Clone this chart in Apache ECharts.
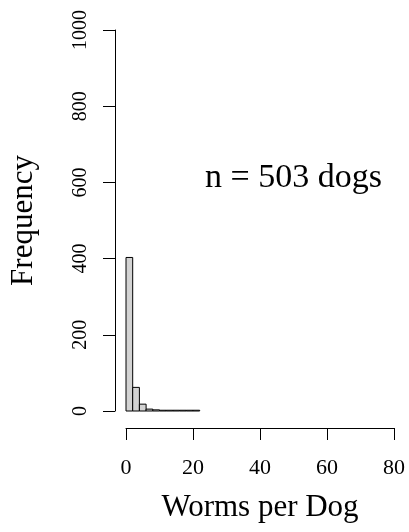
<!DOCTYPE html>
<html>
<head>
<meta charset="utf-8">
<script src="https://cdn.jsdelivr.net/npm/echarts@6/dist/echarts.min.js"></script>
<style>
html,body{margin:0;padding:0;background:#fff;}
#c{width:409px;height:532px;}
</style>
</head>
<body>
<div id="c"></div>
<script>
// Histogram data (bin width 2)
var binEdges = [0, 2, 4, 6, 8, 10, 12, 14, 16, 18, 20, 22];
var counts   = [403, 62, 18, 5, 3, 2, 2, 2, 2, 2, 2];
var xTicks = [0, 20, 40, 60, 80];
var yTicks = [0, 200, 400, 600, 800, 1000];
var annotationText = 'n = 503 dogs';
var annotationPos = [50, 600];
var xTitle = 'Worms per Dog';
var yTitle = 'Frequency';

var histData = counts.map(function (c, i) { return [binEdges[i], binEdges[i + 1], c]; });
var font = 'Liberation Serif';

var chart = echarts.init(document.getElementById('c'), null, {renderer: 'canvas'});
chart.setOption({
  animation: false,
  backgroundColor: '#ffffff',
  grid: {left: 126, right: 15, top: 30, bottom: 121, containLabel: false},
  xAxis: {
    type: 'value',
    min: xTicks[0], max: xTicks[xTicks.length - 1], interval: xTicks[1] - xTicks[0],
    offset: 17,
    name: xTitle, nameLocation: 'middle', nameGap: 64,
    nameTextStyle: {fontFamily: font, fontSize: 31, color: '#000'},
    axisLine: {show: true, onZero: false, lineStyle: {color: '#000', width: 1}},
    axisTick: {show: true, inside: false, length: 12, lineStyle: {color: '#000', width: 1}},
    axisLabel: {fontFamily: font, fontSize: 22, color: '#000', margin: 29,
      formatter: function (v) { return String(v); }},
    splitLine: {show: false}
  },
  yAxis: {
    type: 'value',
    min: yTicks[0], max: yTicks[yTicks.length - 1], interval: yTicks[1] - yTicks[0],
    offset: 11,
    name: yTitle, nameLocation: 'middle', nameGap: 76,
    nameTextStyle: {fontFamily: font, fontSize: 31, color: '#000'},
    axisLine: {show: true, onZero: false, lineStyle: {color: '#000', width: 1}},
    axisTick: {show: true, inside: false, length: 12, lineStyle: {color: '#000', width: 1}},
    axisLabel: {fontFamily: font, fontSize: 20, color: '#000', margin: 24, rotate: 90,
      formatter: function (v) { return String(v); }},
    splitLine: {show: false}
  },
  series: [
    {
      type: 'custom',
      data: histData,
      clip: false,
      renderItem: function (params, api) {
        var p0 = api.coord([api.value(0), api.value(2)]);
        var p1 = api.coord([api.value(1), 0]);
        return {
          type: 'rect',
          shape: {x: p0[0], y: p0[1], width: p1[0] - p0[0], height: p1[1] - p0[1]},
          style: {fill: '#d3d3d3', stroke: '#000', lineWidth: 1}
        };
      }
    },
    {
      type: 'scatter',
      data: [annotationPos],
      symbolSize: 0,
      silent: true,
      itemStyle: {opacity: 1},
      label: {
        show: true, position: 'inside', offset: [0, -4],
        formatter: annotationText,
        fontFamily: font, fontSize: 34, color: '#000', opacity: 1
      }
    }
  ]
});
</script>
</body>
</html>
